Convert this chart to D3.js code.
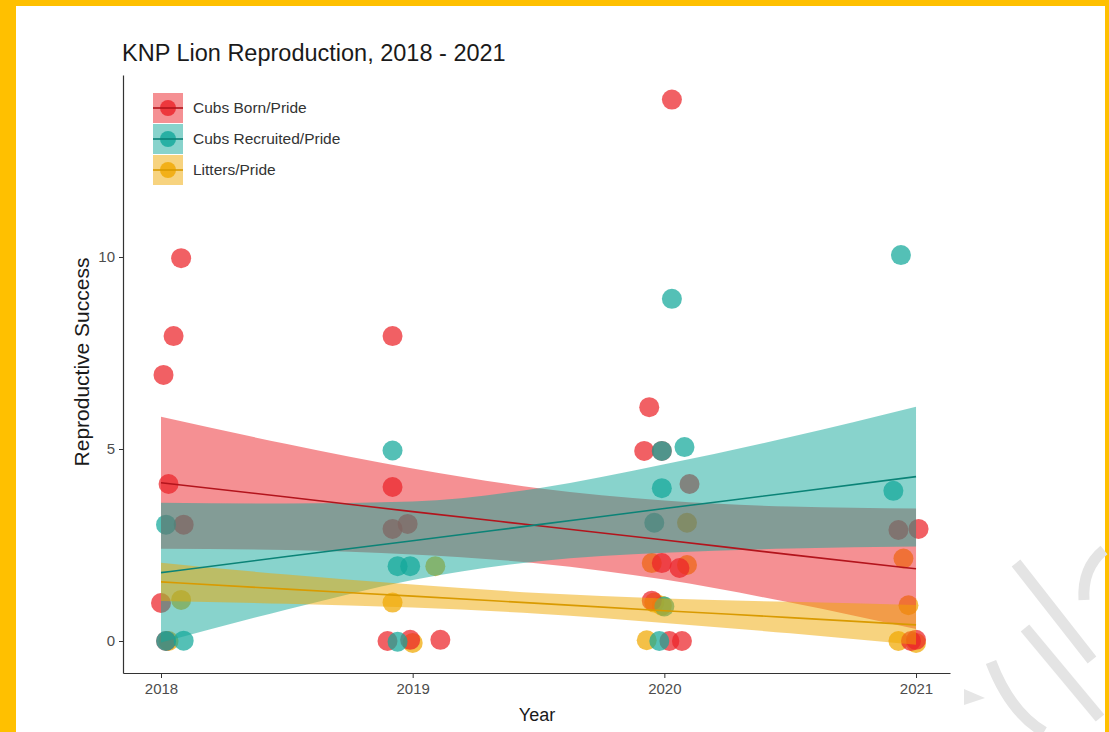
<!DOCTYPE html>
<html>
<head>
<meta charset="utf-8">
<script src="https://cdn.jsdelivr.net/npm/d3@7"></script>
<style>
  body { margin: 0; background: #fff; }
  svg { display: block; }
</style>
</head>
<body>
<script>
// ---- data ----
const seriesNames = ["Cubs Born/Pride", "Cubs Recruited/Pride", "Litters/Pride"];
const seriesColors = ["#EB2228", "#12A79A", "#F0A800"];
const lineColors = ["#B3141C", "#0B8377", "#D99A00"];
const xTicks = [2018, 2019, 2020, 2021];
const yTicks = [0, 5, 10];

// jittered observations (year position, value)
const bornX = [2018.01, 2018.05, 2018.08, 2018.03, 2018.09, 2018.00, 2018.02,
               2018.92, 2018.92, 2018.92, 2018.98, 2018.90, 2018.99, 2019.11,
               2020.03, 2019.94, 2019.92, 2019.99, 2020.10, 2019.99, 2020.06, 2019.95, 2020.02, 2020.07,
               2020.93, 2021.01, 2020.98, 2021.00];
const bornY = [6.93, 7.94, 9.97, 4.09, 3.03, 0.99, 0.00,
               7.94, 4.01, 2.92, 3.05, 0.00, 0.03, 0.03,
               14.10, 6.09, 4.95, 4.95, 4.09, 2.03, 1.90, 1.05, 0.00, 0.00,
               2.89, 2.92, 0.00, 0.03];

const recruitedX = [2018.02, 2018.02, 2018.09,
                    2018.92, 2018.94, 2018.99, 2018.94,
                    2020.03, 2020.08, 2019.99, 2019.99, 2019.96, 2020.00, 2019.98,
                    2020.94, 2020.91];
const recruitedY = [3.03, 0.00, 0.01,
                    4.96, 1.95, 1.95, -0.02,
                    8.91, 5.05, 4.95, 3.98, 3.08, 0.90, 0.00,
                    10.05, 3.91];

const littersX = [2018.08, 2018.03,
                  2019.09, 2018.92, 2019.00,
                  2020.09, 2019.95, 2020.09, 2019.96, 2019.99, 2019.93,
                  2020.95, 2020.97, 2020.93, 2021.00];
const littersY = [1.07, 0.00,
                  1.95, 1.00, -0.05,
                  3.08, 2.03, 1.98, 1.00, 0.92, 0.02,
                  2.15, 0.93, 0.00, -0.05];

// linear fits with confidence bands
const fitYears = [2018, 2018.5, 2019, 2019.5, 2020, 2020.5, 2021];
const bornFit  = [4.12, 3.75, 3.37, 3.00, 2.63, 2.25, 1.88];
const bornLow  = [2.40, 2.37, 2.25, 2.02, 1.60, 1.00, 0.31];
const bornHigh = [5.84, 5.13, 4.49, 3.98, 3.66, 3.50, 3.45];
const recruitedFit  = [1.78, 2.20, 2.61, 3.03, 3.45, 3.86, 4.28];
const recruitedLow  = [-0.04, 0.82, 1.59, 2.08, 2.30, 2.41, 2.46];
const recruitedHigh = [3.60, 3.58, 3.63, 3.98, 4.60, 5.31, 6.10];
const littersFit  = [1.54, 1.35, 1.17, 0.98, 0.79, 0.61, 0.42];
const littersLow  = [1.04, 0.97, 0.87, 0.71, 0.47, 0.20, -0.10];
const littersHigh = [2.04, 1.73, 1.47, 1.25, 1.11, 1.02, 0.94];

// ---- layout ----
const W = 1109, H = 732;
const svg = d3.select("body").append("svg").attr("width", W).attr("height", H);

// frame
svg.append("rect").attr("width", W).attr("height", H).attr("fill", "#FFC000");
svg.append("rect").attr("x", 16).attr("y", 6).attr("width", 1089).attr("height", 726).attr("fill", "#fff");

const panel = { left: 123, right: 950, top: 75, bottom: 673 };
const x = d3.scaleLinear().domain([2017.849, 2021.135]).range([panel.left, panel.right]);
const y = d3.scaleLinear().domain([-0.833, 14.74]).range([panel.bottom, panel.top]);

const font = "'Liberation Sans', Arial, sans-serif";

// watermark strokes
const wm = svg.append("g").attr("fill", "none").attr("stroke", "#E4E4E4")
  .attr("stroke-width", 11).attr("stroke-linecap", "butt");
wm.append("path").attr("d", "M1016,563 L1092,660");
wm.append("path").attr("d", "M1025,628 L1100,718");
wm.append("path").attr("d", "M991,662 Q1010,712 1044,732");
wm.append("path").attr("d", "M1084,600 Q1082,568 1104,550");
svg.append("path").attr("d", "M964,689 L985,698 L964,705 Z").attr("fill", "#E6E6E6");

// ---- points (drawn first, bands go over them) ----
const pointSets = [
  { xs: littersX, ys: littersY, c: seriesColors[2] },
  { xs: bornX, ys: bornY, c: seriesColors[0] },
  { xs: recruitedX, ys: recruitedY, c: seriesColors[1] }
];
const pts = svg.append("g");
pointSets.forEach(s => {
  pts.selectAll(null).data(d3.range(s.xs.length)).join("circle")
    .attr("cx", i => x(s.xs[i]))
    .attr("cy", i => y(s.ys[i]))
    .attr("r", 10)
    .attr("fill", s.c)
    .attr("fill-opacity", 0.72);
});

// ---- confidence bands and fitted lines ----
const bands = [
  { fit: bornFit, lo: bornLow, hi: bornHigh, c: seriesColors[0], lc: lineColors[0] },
  { fit: recruitedFit, lo: recruitedLow, hi: recruitedHigh, c: seriesColors[1], lc: lineColors[1] },
  { fit: littersFit, lo: littersLow, hi: littersHigh, c: seriesColors[2], lc: lineColors[2] }
];
const area = d3.area().x(i => x(fitYears[i])).curve(d3.curveMonotoneX);
const line = d3.line().x(i => x(fitYears[i])).curve(d3.curveMonotoneX);
const idx = d3.range(fitYears.length);
bands.forEach(b => {
  svg.append("path")
    .attr("d", area.y0(i => y(b.lo[i])).y1(i => y(b.hi[i]))(idx))
    .attr("fill", b.c).attr("fill-opacity", 0.5);
});
bands.forEach(b => {
  svg.append("path")
    .attr("d", line.y(i => y(b.fit[i]))(idx))
    .attr("fill", "none").attr("stroke", b.lc).attr("stroke-width", 1.6);
});

// ---- axes ----
const xAxis = svg.append("g").attr("transform", `translate(0,${panel.bottom})`)
  .call(d3.axisBottom(x).tickValues(xTicks).tickFormat(d3.format("d")).tickSize(5).tickPadding(5).tickSizeOuter(0));
const yAxis = svg.append("g").attr("transform", `translate(${panel.left},0)`)
  .call(d3.axisLeft(y).tickValues(yTicks).tickSize(4).tickPadding(4).tickSizeOuter(0));
[xAxis, yAxis].forEach(a => {
  a.select(".domain").attr("stroke", "#333").attr("stroke-width", 1.2);
  a.selectAll(".tick line").attr("stroke", "#333");
  a.selectAll(".tick text").attr("fill", "#4d4d4d").style("font-family", font).style("font-size", "15px");
});

// ---- titles ----
svg.append("text").attr("x", 122).attr("y", 61)
  .style("font-family", font).style("font-size", "23.5px").attr("fill", "#1a1a1a")
  .text("KNP Lion Reproduction, 2018 - 2021");
svg.append("text").attr("transform", "translate(89,362) rotate(-90)")
  .attr("text-anchor", "middle")
  .style("font-family", font).style("font-size", "21px").attr("fill", "#1a1a1a")
  .text("Reproductive Success");
svg.append("text").attr("x", 537).attr("y", 721).attr("text-anchor", "middle")
  .style("font-family", font).style("font-size", "18px").attr("fill", "#1a1a1a")
  .text("Year");

// ---- legend ----
const legend = svg.append("g").attr("transform", "translate(153,93)");
seriesNames.forEach((name, i) => {
  const g = legend.append("g").attr("transform", `translate(0,${i * 31})`);
  g.append("rect").attr("width", 30).attr("height", 30).attr("fill", seriesColors[i]).attr("fill-opacity", 0.5);
  g.append("circle").attr("cx", 15).attr("cy", 15).attr("r", 8).attr("fill", seriesColors[i]).attr("fill-opacity", 0.8);
  g.append("line").attr("x1", 0).attr("x2", 30).attr("y1", 15).attr("y2", 15)
    .attr("stroke", lineColors[i]).attr("stroke-width", 1.6);
  g.append("text").attr("x", 40).attr("y", 15).attr("dy", "0.35em")
    .style("font-family", font).style("font-size", "15.5px").attr("fill", "#333")
    .text(name);
});
</script>
</body>
</html>
